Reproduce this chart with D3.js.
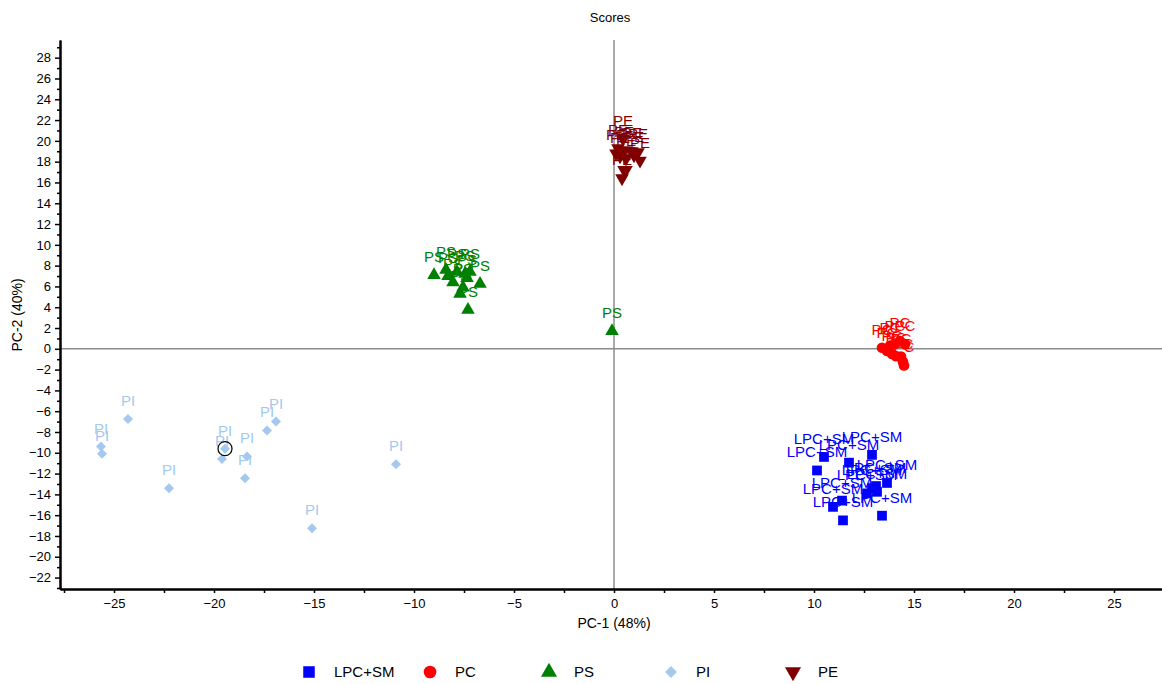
<!DOCTYPE html>
<html>
<head>
<meta charset="utf-8">
<script src="https://cdn.jsdelivr.net/npm/d3@7"></script>
<style>
  html, body { margin: 0; padding: 0; background: #fff; }
  svg { display: block; font-family: "Liberation Sans", Arial, sans-serif; }
</style>
</head>
<body>
<svg id="chart" width="1162" height="684"></svg>
<script>
// PCA score groups (PC-1, PC-2)
const groups = ["LPC+SM", "PC", "PS", "PI", "PE"];
const groupColors = ["#0000ff", "#ff0000", "#008000", "#a4c8ee", "#800000"];

const lpcsmPoints = [
  [10.5, -10.4], [10.15, -11.7], [11.75, -10.95], [12.9, -10.2],
  [13.65, -12.9], [13.1, -13.2], [13.15, -13.75], [12.65, -13.9],
  [11.4, -14.6], [10.95, -15.2], [11.45, -16.5], [13.4, -16.05], [12.9, -13.4]
];
const pcPoints = [
  [13.4, 0.1], [13.65, -0.2], [13.9, -0.5], [14.1, -0.7], [14.35, -0.75],
  [14.45, -1.25], [14.5, -1.6], [14.05, 0.5], [14.3, 0.75], [14.55, 0.45], [13.8, 0.3]
];
const psPoints = [
  [-9.0, 7.1], [-8.4, 7.6], [-8.3, 7.0], [-8.05, 6.4], [-7.7, 5.3], [-7.55, 5.9],
  [-7.45, 7.2], [-7.35, 6.8], [-6.7, 6.25], [-7.3, 3.75], [-7.85, 7.4], [-7.2, 7.4],
  [-0.1, 1.7]
];
const piPoints = [
  [-24.3, -6.75], [-25.65, -9.4], [-25.6, -10.1], [-22.25, -13.4], [-19.45, -9.6],
  [-19.6, -10.6], [-18.35, -10.35], [-18.45, -12.45], [-17.35, -7.85], [-16.9, -7.0],
  [-10.9, -11.1], [-15.1, -17.25]
];
const pePoints = [
  [0.45, 20.2], [0.2, 19.3], [0.5, 19.1], [0.9, 19.0], [1.2, 18.9], [0.3, 18.5],
  [0.6, 18.3], [1.0, 18.6], [1.3, 18.1], [0.5, 17.2], [0.6, 17.2], [0.4, 16.4], [0.1, 18.8]
];
const selectedPoint = [-19.45, -9.6];

const xMajorTicks = [-25, -20, -15, -10, -5, 0, 5, 10, 15, 20, 25];
const xMinorTicks = [-27.5, -22.5, -17.5, -12.5, -7.5, -2.5, 2.5, 7.5, 12.5, 17.5, 22.5, 27.5];
const yMajorTicks = [-22, -20, -18, -16, -14, -12, -10, -8, -6, -4, -2, 0, 2, 4, 6, 8, 10, 12, 14, 16, 18, 20, 22, 24, 26, 28];
const yMinorTicks = d3.range(-23, 30, 2);

const seriesPoints = [lpcsmPoints, pcPoints, psPoints, piPoints, pePoints];
// diamonds are squares turned by 45 degrees, PE uses an inverted triangle
const symbolTypes = [d3.symbolSquare, d3.symbolCircle, d3.symbolTriangle, d3.symbolSquare, d3.symbolTriangle];
const symbolSizes = [95, 90, 80, 50, 80];
const symbolRotate = [0, 0, 0, 45, 180];

const svg = d3.select("#chart");
const plot = { left: 60, right: 1162, top: 40, bottom: 589 };

const x = d3.scaleLinear().domain([-27.7, 27.4]).range([plot.left, plot.right]);
const y = d3.scaleLinear().domain([-23.1, 29.7]).range([plot.bottom, plot.top]);

// Title
svg.append("text").attr("x", 610).attr("y", 22).attr("text-anchor", "middle")
  .attr("font-size", 13).attr("fill", "#000").text("Scores");

// Zero lines
svg.append("line").attr("x1", x(0)).attr("x2", x(0)).attr("y1", plot.top).attr("y2", plot.bottom)
  .attr("stroke", "#8c8c8c").attr("stroke-width", 1.5);
svg.append("line").attr("x1", plot.left).attr("x2", plot.right).attr("y1", y(0)).attr("y2", y(0))
  .attr("stroke", "#8c8c8c").attr("stroke-width", 1.5);

// Axes
const styleAxis = g => {
  g.select(".domain").attr("stroke", "#000").attr("stroke-width", 2);
  g.selectAll(".tick line").attr("stroke", "#000").attr("stroke-width", 1.5);
  g.selectAll(".tick text").attr("font-size", 13).attr("fill", "#000")
    .attr("font-family", "Liberation Sans, Arial, sans-serif");
};

svg.append("g").attr("transform", `translate(0,${plot.bottom})`)
  .call(d3.axisBottom(x).tickValues(xMinorTicks).tickSize(4).tickFormat("").tickSizeOuter(0))
  .call(styleAxis);
svg.append("g").attr("transform", `translate(0,${plot.bottom})`)
  .call(d3.axisBottom(x).tickValues(xMajorTicks).tickSize(4).tickPadding(6).tickSizeOuter(0))
  .call(styleAxis);

svg.append("g").attr("transform", `translate(${plot.left},0)`)
  .call(d3.axisLeft(y).tickValues(yMinorTicks).tickSize(3).tickFormat("").tickSizeOuter(0))
  .call(styleAxis);
svg.append("g").attr("transform", `translate(${plot.left},0)`)
  .call(d3.axisLeft(y).tickValues(yMajorTicks).tickSize(5).tickPadding(4).tickSizeOuter(0))
  .call(styleAxis);

// Axis titles
svg.append("text").attr("x", 614).attr("y", 628).attr("text-anchor", "middle")
  .attr("font-size", 14).text("PC-1 (48%)");
svg.append("text").attr("transform", "translate(22,315) rotate(-90)").attr("text-anchor", "middle")
  .attr("font-size", 14).text("PC-2 (40%)");

// Markers and labels
groups.forEach((name, i) => {
  const g = svg.append("g");
  const sym = d3.symbol().type(symbolTypes[i]).size(symbolSizes[i]);
  g.selectAll("path").data(seriesPoints[i]).join("path")
    .attr("d", sym)
    .attr("transform", d => `translate(${x(d[0])},${y(d[1])}) rotate(${symbolRotate[i]})`)
    .attr("fill", groupColors[i]);
  g.selectAll("text").data(seriesPoints[i]).join("text")
    .attr("x", d => x(d[0])).attr("y", d => y(d[1]) - 13)
    .attr("text-anchor", "middle").attr("font-size", 15)
    .attr("fill", groupColors[i]).text(name);
});

// Highlighted sample
svg.append("circle").attr("cx", x(selectedPoint[0])).attr("cy", y(selectedPoint[1]))
  .attr("r", 7).attr("fill", "none").attr("stroke", "#000").attr("stroke-width", 1.2);

// Legend
const legendX = [309, 430, 549, 671, 793];
const legend = svg.append("g");
groups.forEach((name, i) => {
  const sym = d3.symbol().type(symbolTypes[i]).size(symbolSizes[i] * 1.4);
  legend.append("path").attr("d", sym)
    .attr("transform", `translate(${legendX[i]},672) rotate(${symbolRotate[i]})`)
    .attr("fill", groupColors[i]);
  legend.append("text").attr("x", legendX[i] + 25).attr("y", 677)
    .attr("font-size", 15).attr("fill", "#000").text(name);
});
</script>
</body>
</html>
